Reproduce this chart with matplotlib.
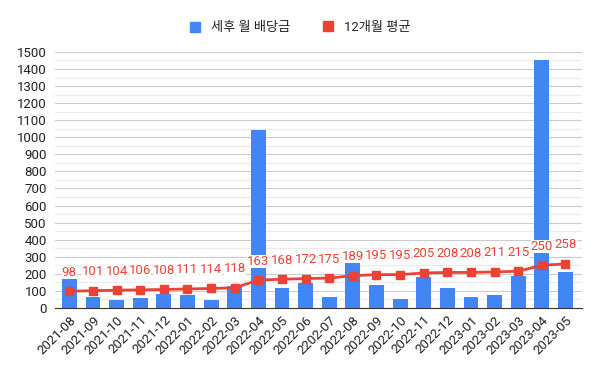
import numpy as np
import matplotlib.pyplot as plt
from matplotlib.ticker import MultipleLocator

plt.rcParams['font.family'] = ['Roboto', 'Noto Sans CJK KR', 'DejaVu Sans']

months = ["2021-08", "2021-09", "2021-10", "2021-11", "2021-12", "2022-01",
          "2022-02", "2022-03", "2022-04", "2022-05", "2022-06", "2202-07",
          "2022-08", "2022-09", "2022-10", "2022-11", "2022-12", "2023-01",
          "2023-02", "2023-03", "2023-04", "2023-05"]
dividend = [176, 65, 49, 61, 84, 73, 49, 131, 1040, 114, 146, 64,
            285, 135, 53, 182, 117, 64, 76, 188, 1455, 211]
avg12 = [98, 101, 104, 106, 108, 111, 114, 118, 163, 168, 172, 175,
         189, 195, 195, 205, 208, 208, 211, 215, 250, 258]

blue = "#4285F4"
red = "#EA4335"

fig = plt.figure(figsize=(6, 3.71), dpi=100)
ax = fig.add_axes([0.092, 0.170, 0.878, 0.690])

x = np.arange(len(months))
ax.bar(x, dividend, width=0.63, color=blue, zorder=2)
ax.plot(x, avg12, color=red, lw=2, marker="s", ms=5.5, zorder=3)

# data labels above the average line
for xi, v in zip(x, avg12):
    ax.annotate(str(v), (xi, v), xytext=(0, 9), textcoords="offset points",
                ha="center", va="bottom", color=red, fontsize=9.5,
                bbox=dict(boxstyle="square,pad=0.0", fc="white", ec="none"),
                zorder=4)

ax.set_xlim(-0.6, 21.7)
ax.set_ylim(0, 1500)
ax.yaxis.set_major_locator(MultipleLocator(100))
ax.yaxis.set_minor_locator(MultipleLocator(50))
ax.grid(axis="y", which="major", color="#cccccc", lw=0.8, zorder=0)
ax.grid(axis="y", which="minor", color="#ebebeb", lw=0.8, zorder=0)
ax.set_axisbelow(True)

ax.set_xticks(x)
ax.set_xticklabels(months, rotation=45, ha="right", rotation_mode="anchor", fontsize=9.5)
ax.tick_params(axis="x", length=0, pad=4, labelcolor="#222222")
ax.tick_params(axis="y", which="both", length=0, labelsize=9.5, pad=6, labelcolor="#222222")

for s in ["top", "right", "left"]:
    ax.spines[s].set_visible(False)
ax.spines["bottom"].set_color("#333333")

fig.legend(loc="upper center", bbox_to_anchor=(0.5, 0.975), ncol=2, frameon=False,
           fontsize=9.5, handlelength=0.8, handleheight=0.8, columnspacing=2.5,
           handles=[plt.Rectangle((0, 0), 1, 1, color=blue),
                    plt.Line2D([], [], color=red, marker="s", ls="none", ms=7)],
           labels=["세후 월 배당금", "12개월 평균"], labelcolor="#222222")

fig.savefig("out.png", dpi=100)
